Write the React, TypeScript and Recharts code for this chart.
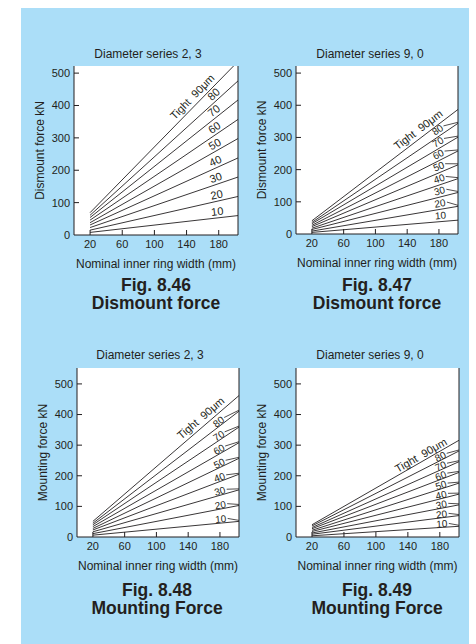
import React from "react";
import { LineChart, Line, XAxis, YAxis, CartesianGrid, ReferenceLine } from "recharts";

const ink = "#231f20";
const panelBlue = "#abdef8";
const font = "'Liberation Sans', Arial, Helvetica, sans-serif";

const widthTicks = [20, 60, 100, 140, 180];
const forceTicks = [0, 100, 200, 300, 400, 500];
const ringWidth = [20, 204];
const tightness = [10, 20, 30, 40, 50, 60, 70, 80, 90];
const lineLabels = ["10", "20", "30", "40", "50", "60", "70", "80", "Tight\u00a0\u00a090\u03bcm"];

// force in kN at the start and end of each line (10 ... 90 um)
const dismount23Start = [8, 15, 23, 31, 38, 46, 54, 61, 69];
const dismount23End = [60, 119, 179, 238, 298, 357, 417, 476, 536];
const dismount90Start = [5, 9, 14, 18, 23, 27, 32, 36, 41];
const dismount90End = [43, 86, 129, 172, 215, 258, 301, 344, 387];
const mount23Start = [6, 11, 17, 23, 28, 34, 40, 45, 51];
const mount23End = [51, 103, 154, 205, 257, 308, 359, 411, 462];
const mount90Start = [4, 9, 13, 18, 22, 27, 31, 36, 40];
const mount90End = [35, 70, 105, 140, 176, 211, 246, 281, 316];

function buildRows(start: number[], end: number[]) {
  return ringWidth.map((w, i) => {
    const row: Record<string, number> = { width: w };
    tightness.forEach((t, k) => {
      row[`t${t}`] = i === 0 ? start[k] : end[k];
    });
    return row;
  });
}

function XTick(props: any) {
  const { x, y, payload } = props;
  const axisY = y - 5;
  return (
    <g>
      <line x1={x} x2={x} y1={axisY} y2={axisY - 5} stroke={ink} strokeWidth={1} />
      <text x={x} y={y} dy="0.71em" textAnchor="middle" fontSize={11} fill={ink} fontFamily={font}>
        {payload.value}
      </text>
    </g>
  );
}

function YTick(props: any) {
  const { x, y, payload } = props;
  const axisX = x + 4;
  return (
    <g>
      {payload.value > 0 && (
        <line x1={axisX} x2={axisX + 5} y1={y} y2={y} stroke={ink} strokeWidth={1} />
      )}
      <text x={x} y={y} dy="0.355em" textAnchor="end" fontSize={11} fill={ink} fontFamily={font}>
        {payload.value}
      </text>
    </g>
  );
}

interface LabelStyle {
  numBack: number; // px left of the line end
  numLift: number; // px above the line
  numSize: number;
  tightBack: number;
  tightLift: number;
  leader: boolean[];
}

// label drawn once per line, at its first dot, using the rendered points
function labelDot(text: string, k: number, st: LabelStyle) {
  const isTight = k === 8;
  const back = isTight ? st.tightBack : st.numBack;
  const lift = isTight ? st.tightLift : st.numLift;
  const size = isTight ? 11 : st.numSize;
  return (props: any) => {
    const { index, points } = props;
    if (index !== 0 || !points || points.length < 2) return <g key={`d-${index}`} />;
    const p0 = points[0];
    const p1 = points[1];
    const x = p1.x - back;
    const t = (x - p0.x) / (p1.x - p0.x);
    const y = p0.y + t * (p1.y - p0.y);
    const a = Math.atan2(p1.y - p0.y, p1.x - p0.x);
    const deg = (a * 180) / Math.PI;
    const cx = x + Math.sin(a) * lift;
    const cy = y - Math.cos(a) * lift;
    const halfW = (text.length * size * 0.556) / 2 + 1.5;
    const ex = cx + Math.cos(a) * halfW;
    const ey = cy + Math.sin(a) * halfW;
    return (
      <g key={`d-${index}`}>
        <text
          x={cx}
          y={cy}
          dy="0.35em"
          textAnchor="middle"
          fontSize={size}
          fill={ink}
          fontFamily={font}
          transform={`rotate(${deg} ${cx} ${cy})`}
        >
          {text}
        </text>
        {!isTight && st.leader[k] && (
          <line x1={ex} y1={ey} x2={p1.x} y2={p1.y - 1} stroke={ink} strokeWidth={0.8} />
        )}
      </g>
    );
  };
}

interface ChartProps {
  px: number;
  py: number;
  pw: number;
  ph: number;
  yMax: number;
  yTitle: string;
  start: number[];
  end: number[];
  labels: LabelStyle;
}

function ForceChart({ px, py, pw, ph, yMax, yTitle, start, end, labels }: ChartProps) {
  const rows = buildRows(start, end);
  return (
    <div style={{ position: "absolute", left: px - 50, top: py - 10 }}>
      <LineChart
        width={pw + 60}
        height={ph + 50}
        data={rows}
        margin={{ top: 10, right: 10, bottom: 0, left: 0 }}
      >
        <CartesianGrid horizontal={false} vertical={false} fill="#ffffff" fillOpacity={1} stroke="none" />
        <XAxis
          dataKey="width"
          type="number"
          domain={[0, ringWidth[1]]}
          ticks={widthTicks}
          interval={0}
          allowDataOverflow
          height={40}
          tickSize={0}
          tickMargin={5}
          tick={<XTick />}
          axisLine={{ stroke: ink, strokeWidth: 1 }}
          label={{
            value: "Nominal inner ring width (mm)",
            position: "insideBottom",
            offset: 7,
            fill: ink,
            fontSize: 12,
            fontFamily: font,
          }}
        />
        <YAxis
          type="number"
          domain={[0, yMax]}
          ticks={forceTicks}
          interval={0}
          allowDataOverflow
          width={50}
          tickSize={0}
          tickMargin={4}
          tick={<YTick />}
          axisLine={{ stroke: ink, strokeWidth: 1 }}
          label={{
            value: yTitle,
            angle: -90,
            position: "insideLeft",
            offset: 16,
            fill: ink,
            fontSize: 12,
            fontFamily: font,
            style: { textAnchor: "middle" },
          }}
        />
        <ReferenceLine x={ringWidth[1]} stroke={ink} strokeWidth={1} />
        {tightness.map((t, k) => (
          <Line
            key={t}
            dataKey={`t${t}`}
            type="linear"
            stroke={ink}
            strokeWidth={0.9}
            dot={labelDot(lineLabels[k], k, labels)}
            activeDot={false}
            isAnimationActive={false}
          />
        ))}
      </LineChart>
    </div>
  );
}

function Caption({ cx, y, lines }: { cx: number; y: number; lines: string[] }) {
  return (
    <div
      style={{
        position: "absolute",
        left: cx - 100,
        top: y,
        width: 200,
        textAlign: "center",
        fontFamily: font,
        fontWeight: "bold",
        fontSize: 17.5,
        lineHeight: "18.5px",
        color: ink,
      }}
    >
      {lines.map((l) => (
        <div key={l}>{l}</div>
      ))}
    </div>
  );
}

function Title({ cx, cy, text }: { cx: number; cy: number; text: string }) {
  return (
    <div
      style={{
        position: "absolute",
        left: cx - 100,
        top: cy - 7,
        width: 200,
        textAlign: "center",
        fontFamily: font,
        fontSize: 12,
        lineHeight: "14px",
        color: ink,
      }}
    >
      {text}
    </div>
  );
}

const noLeaders = [false, false, false, false, false, false, false, false, false];
const allLeaders = [true, true, true, true, true, true, true, true, true];

const style1: LabelStyle = { numBack: 20, numLift: 6.5, numSize: 11, tightBack: 40, tightLift: 8, leader: noLeaders };
const style2: LabelStyle = {
  numBack: 17,
  numLift: 6,
  numSize: 10,
  tightBack: 35,
  tightLift: 8,
  leader: [false, true, true, true, true, true, true, true, true],
};
const style3: LabelStyle = { numBack: 18, numLift: 4, numSize: 10, tightBack: 33, tightLift: 8, leader: allLeaders };
const style4: LabelStyle = { numBack: 17, numLift: 3.5, numSize: 10, tightBack: 35, tightLift: 6, leader: allLeaders };

export default function App() {
  return (
    <div style={{ position: "absolute", left: 0, top: 0, width: 476, height: 644, overflow: "hidden", background: "#fff" }}>
      <div style={{ position: "absolute", left: 21, top: 8, width: 448, height: 636, background: panelBlue }} />
      <Title cx={148} cy={54} text="Diameter series 2, 3" />
      <Title cx={370} cy={54} text="Diameter series 9, 0" />
      <Title cx={150} cy={355} text="Diameter series 2, 3" />
      <Title cx={370} cy={355} text="Diameter series 9, 0" />
      <ForceChart px={74} py={66} pw={164} ph={169} yMax={522} yTitle="Dismount force kN" start={dismount23Start} end={dismount23End} labels={style1} />
      <ForceChart px={296} py={66} pw={162} ph={168} yMax={522} yTitle="Dismount force kN" start={dismount90Start} end={dismount90End} labels={style2} />
      <ForceChart px={77} py={368} pw={162} ph={169} yMax={552} yTitle="Mounting force  kN" start={mount23Start} end={mount23End} labels={style3} />
      <ForceChart px={296} py={368} pw={163} ph={169} yMax={552} yTitle="Mounting force  kN" start={mount90Start} end={mount90End} labels={style4} />
      <Caption cx={156} y={275.5} lines={["Fig. 8.46", "Dismount force"]} />
      <Caption cx={377} y={275.5} lines={["Fig. 8.47", "Dismount force"]} />
      <Caption cx={157} y={580.5} lines={["Fig. 8.48", "Mounting Force"]} />
      <Caption cx={377} y={580.5} lines={["Fig. 8.49", "Mounting Force"]} />
    </div>
  );
}
